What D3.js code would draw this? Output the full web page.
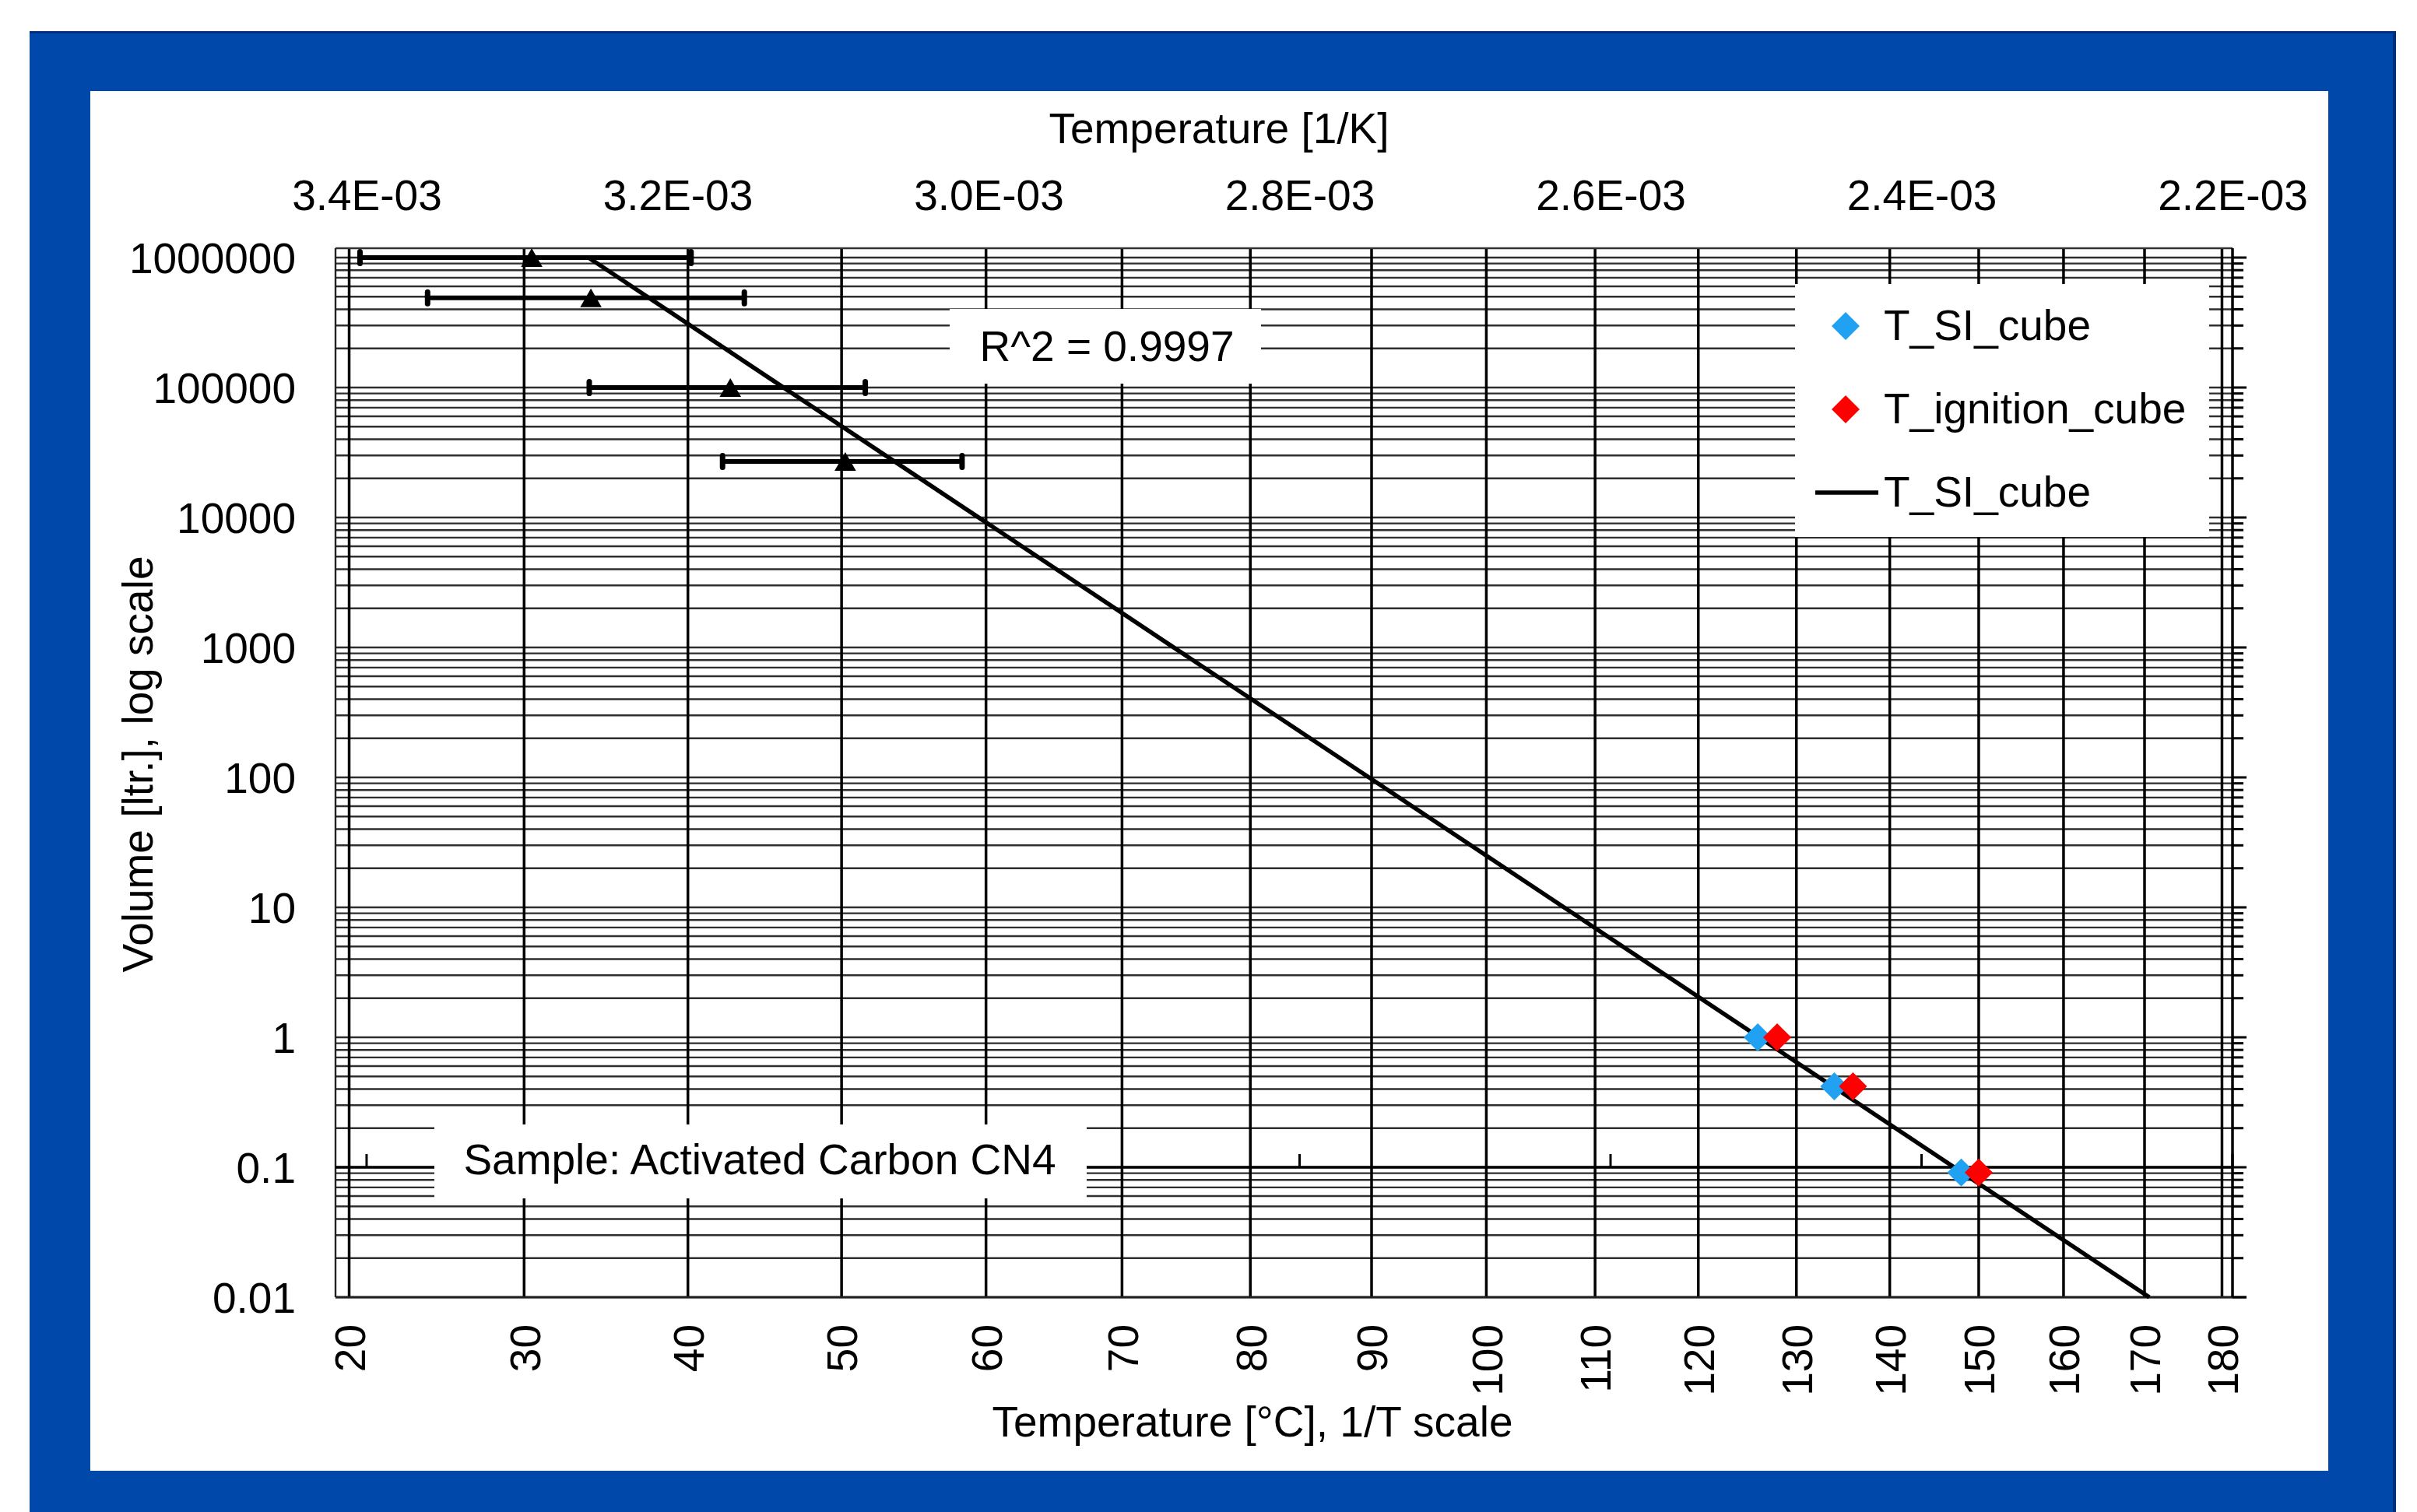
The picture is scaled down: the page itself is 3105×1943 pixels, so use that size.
<!DOCTYPE html>
<html><head><meta charset="utf-8">
<script src="https://cdn.jsdelivr.net/npm/d3@7"></script>
<style>
html,body{margin:0;padding:0;background:#fff;}
svg{display:block;}
text{font-family:"Liberation Sans", Arial, sans-serif; fill:#000;}
</style></head><body>
<svg id="c" width="3105" height="1943"></svg>
<script>
// ---------- data ----------
const tempTicksC = [20,30,40,50,60,70,80,90,100,110,120,130,140,150,160,170,180];
const invTTicks = [3.4e-3, 3.2e-3, 3.0e-3, 2.8e-3, 2.6e-3, 2.4e-3, 2.2e-3];
const volumeTicks = [1e6, 1e5, 1e4, 1e3, 100, 10, 1, 0.1, 0.01];
const volumeTickLabels = ["1000000","100000","10000","1000","100","10","1","0.1","0.01"];
const siCubeT = [126, 134, 148];
const ignitionCubeT = [128, 136, 150];
const cubeVolume = [1, 0.42, 0.091];
const fitT = [33.85, 170.6];
const fitV = [1e6, 0.01];
const vesselT = [30.45, 34.0, 42.7, 50.25];
const vesselV = [1e6, 4.9e5, 1e5, 2.7e4];
const vesselTLow = [20.6, 24.4, 33.9, 42.2];
const vesselTHigh = [40.2, 43.6, 51.6, 58.3];
const legendLabels = ["T_SI_cube", "T_ignition_cube", "T_SI_cube"];
const r2Label = "R^2 = 0.9997";
const sampleLabel = "Sample: Activated Carbon CN4";
const topTitle = "Temperature [1/K]";
const bottomTitle = "Temperature [°C], 1/T scale";
const leftTitle = "Volume [ltr.], log scale";

// ---------- layout ----------
const K = 273.15;
const inv = t => 1 / (t + K);
const L = 431, R = 2868, T = 319, B = 1667;
const FS = 55;
const BLUE = "#0048AA", DARKBLUE = "#002F80";
const SI_COLOR = "#21A1F1", IGN_COLOR = "#FF0000";

const svg = d3.select("#c");
const x = d3.scaleLinear().domain([3.42e-3, 2.2e-3]).range([L, R]);
const y = d3.scaleLog().domain([0.01, 1e6]).range([B, 331]);

// frame
svg.append("rect").attr("x", 38).attr("y", 40).attr("width", 3040).attr("height", 1920).attr("fill", BLUE);
svg.append("rect").attr("x", 38).attr("y", 40).attr("width", 3040).attr("height", 3).attr("fill", DARKBLUE);
svg.append("rect").attr("x", 3074).attr("y", 40).attr("width", 4).attr("height", 1920).attr("fill", DARKBLUE);
svg.append("rect").attr("x", 116).attr("y", 117).attr("width", 2875).attr("height", 1773).attr("fill", "#fff");

const g = svg.append("g");

// horizontal gridlines (log minor + major)
const yGridVals = y.ticks();
g.append("g").selectAll("line").data(yGridVals).join("line")
  .attr("x1", L).attr("x2", R)
  .attr("y1", d => y(d)).attr("y2", d => y(d))
  .attr("stroke", "#2e2e2e").attr("stroke-width", 2.4);

// vertical gridlines at each 10 °C on the 1/T scale
g.append("g").selectAll("line").data(tempTicksC).join("line")
  .attr("x1", d => x(inv(d))).attr("x2", d => x(inv(d)))
  .attr("y1", T).attr("y2", B)
  .attr("stroke", "#000").attr("stroke-width", 3.5);

// plot border
g.append("line").attr("x1", L).attr("x2", R).attr("y1", T).attr("y2", T).attr("stroke", "#333").attr("stroke-width", 2.4);
g.append("line").attr("x1", L).attr("x2", L).attr("y1", T).attr("y2", B).attr("stroke", "#222").attr("stroke-width", 2.4);
g.append("line").attr("x1", L).attr("x2", R + 18).attr("y1", B).attr("y2", B).attr("stroke", "#222").attr("stroke-width", 3);

// secondary x-axis (1/T) crossing at 0.1
g.append("line").attr("x1", L).attr("x2", R).attr("y1", y(0.1)).attr("y2", y(0.1)).attr("stroke", "#000").attr("stroke-width", 3.5);
g.append("g").selectAll("line").data(invTTicks).join("line")
  .attr("x1", d => x(d)).attr("x2", d => x(d))
  .attr("y1", y(0.1) - 17).attr("y2", y(0.1))
  .attr("stroke", "#000").attr("stroke-width", 3);

// secondary y-axis on the right
g.append("line").attr("x1", R).attr("x2", R).attr("y1", T).attr("y2", B).attr("stroke", "#000").attr("stroke-width", 3.5);
const isDecade = d => Math.abs(Math.log10(d) - Math.round(Math.log10(d))) < 1e-9;
g.append("g").selectAll("line").data(yGridVals).join("line")
  .attr("x1", R).attr("x2", d => R + (isDecade(d) ? 18 : 14))
  .attr("y1", d => y(d)).attr("y2", d => y(d))
  .attr("stroke", "#000").attr("stroke-width", 3);

// left axis labels
const axL = d3.axisLeft(y).tickValues(volumeTicks).tickFormat((d, i) => volumeTickLabels[i]).tickSize(0).tickPadding(51);
const gL = svg.append("g").attr("transform", `translate(${L},0)`).call(axL);
gL.select(".domain").remove();
gL.attr("font-size", FS).attr("font-family", "Liberation Sans, Arial, sans-serif");
gL.selectAll("text").attr("dy", "0.36em").attr("fill", "#000");

// top axis labels (1/K)
const fmtE = v => { const [m, e] = v.toExponential(1).split("e"); return m + "E-" + String(Math.abs(+e)).padStart(2, "0"); };
const axT = d3.axisTop(x).tickValues(invTTicks).tickFormat(fmtE).tickSize(0).tickPadding(0);
const gT = svg.append("g").attr("transform", "translate(0,270)").call(axT);
gT.select(".domain").remove();
gT.attr("font-size", FS).attr("font-family", "Liberation Sans, Arial, sans-serif");
gT.selectAll("text").attr("fill", "#000");

// bottom axis labels (°C, rotated)
const axB = d3.axisBottom(x).tickValues(tempTicksC.map(inv)).tickFormat((d, i) => tempTicksC[i]).tickSize(0);
const gB = svg.append("g").attr("transform", `translate(0,${B})`).call(axB);
gB.select(".domain").remove();
gB.attr("font-size", FS).attr("font-family", "Liberation Sans, Arial, sans-serif");
gB.selectAll("text").attr("fill", "#000")
  .attr("x", -35).attr("y", 0).attr("dy", "0.36em")
  .attr("text-anchor", "end").attr("transform", "rotate(-90)");

// titles
svg.append("text").attr("x", 1566).attr("y", 184).attr("text-anchor", "middle").attr("font-size", FS).text(topTitle);
svg.append("text").attr("x", 1609).attr("y", 1846).attr("text-anchor", "middle").attr("font-size", FS).text(bottomTitle);
svg.append("text").attr("transform", "translate(176,982) rotate(-90)").attr("dy", "0.36em")
  .attr("text-anchor", "middle").attr("font-size", FS).text(leftTitle);

// regression line
const fit = fitT.map((t, i) => [x(inv(t)), y(fitV[i])]);
g.append("path").attr("d", d3.line()(fit)).attr("stroke", "#000").attr("stroke-width", 5.5).attr("fill", "none");

// vessel measurements with horizontal error bars
const vessels = vesselT.map((t, i) => ({t, v: vesselV[i], lo: vesselTLow[i], hi: vesselTHigh[i]}));
const eb = g.append("g");
eb.selectAll("line").data(vessels).join("line")
  .attr("x1", d => x(inv(d.lo))).attr("x2", d => x(inv(d.hi)))
  .attr("y1", d => y(d.v)).attr("y2", d => y(d.v))
  .attr("stroke", "#000").attr("stroke-width", 6);
eb.selectAll("rect.lo").data(vessels).join("rect").attr("class", "lo")
  .attr("x", d => x(inv(d.lo)) - 3.5).attr("y", d => y(d.v) - 11).attr("width", 7).attr("height", 22).attr("rx", 3.5).attr("fill", "#000");
eb.selectAll("rect.hi").data(vessels).join("rect").attr("class", "hi")
  .attr("x", d => x(inv(d.hi)) - 3.5).attr("y", d => y(d.v) - 11).attr("width", 7).attr("height", 22).attr("rx", 3.5).attr("fill", "#000");
const triSize = 330, triR = Math.sqrt(triSize / (3 * Math.sqrt(3)));
eb.selectAll("path").data(vessels).join("path")
  .attr("d", d3.symbol(d3.symbolTriangle, triSize)())
  .attr("transform", d => `translate(${x(inv(d.t))},${y(d.v) + triR / 2})`)
  .attr("fill", "#000");

// cube diamonds
const diamond = d3.symbol(d3.symbolSquare, 650)();
g.append("g").selectAll("path").data(siCubeT.map((t, i) => [t, cubeVolume[i]])).join("path")
  .attr("d", diamond).attr("fill", SI_COLOR)
  .attr("transform", d => `translate(${x(inv(d[0]))},${y(d[1])}) rotate(45)`);
g.append("g").selectAll("path").data(ignitionCubeT.map((t, i) => [t, cubeVolume[i]])).join("path")
  .attr("d", diamond).attr("fill", IGN_COLOR)
  .attr("transform", d => `translate(${x(inv(d[0]))},${y(d[1])}) rotate(45)`);

// R^2 box
svg.append("rect").attr("x", 1220).attr("y", 397).attr("width", 400).attr("height", 96).attr("fill", "#fff");
svg.append("text").attr("x", 1422).attr("y", 464).attr("text-anchor", "middle").attr("font-size", FS).text(r2Label);

// Sample box
svg.append("rect").attr("x", 558).attr("y", 1445).attr("width", 838).attr("height", 95).attr("fill", "#fff");
svg.append("text").attr("x", 976).attr("y", 1509).attr("text-anchor", "middle").attr("font-size", FS).text(sampleLabel);

// legend
const lg = svg.append("g");
lg.append("rect").attr("x", 2306).attr("y", 365).attr("width", 532).attr("height", 325).attr("fill", "#fff");
const legY = [419, 526, 633];
lg.append("path").attr("d", diamond).attr("fill", SI_COLOR).attr("transform", `translate(2371,${legY[0]}) rotate(45)`);
lg.append("path").attr("d", diamond).attr("fill", IGN_COLOR).attr("transform", `translate(2371,${legY[1]}) rotate(45)`);
lg.append("line").attr("x1", 2332).attr("x2", 2413).attr("y1", legY[2]).attr("y2", legY[2]).attr("stroke", "#000").attr("stroke-width", 5.5);
lg.selectAll("text").data(legendLabels).join("text")
  .attr("x", 2420).attr("y", (d, i) => legY[i] + 18).attr("font-size", FS).text(d => d);
</script>
</body></html>
